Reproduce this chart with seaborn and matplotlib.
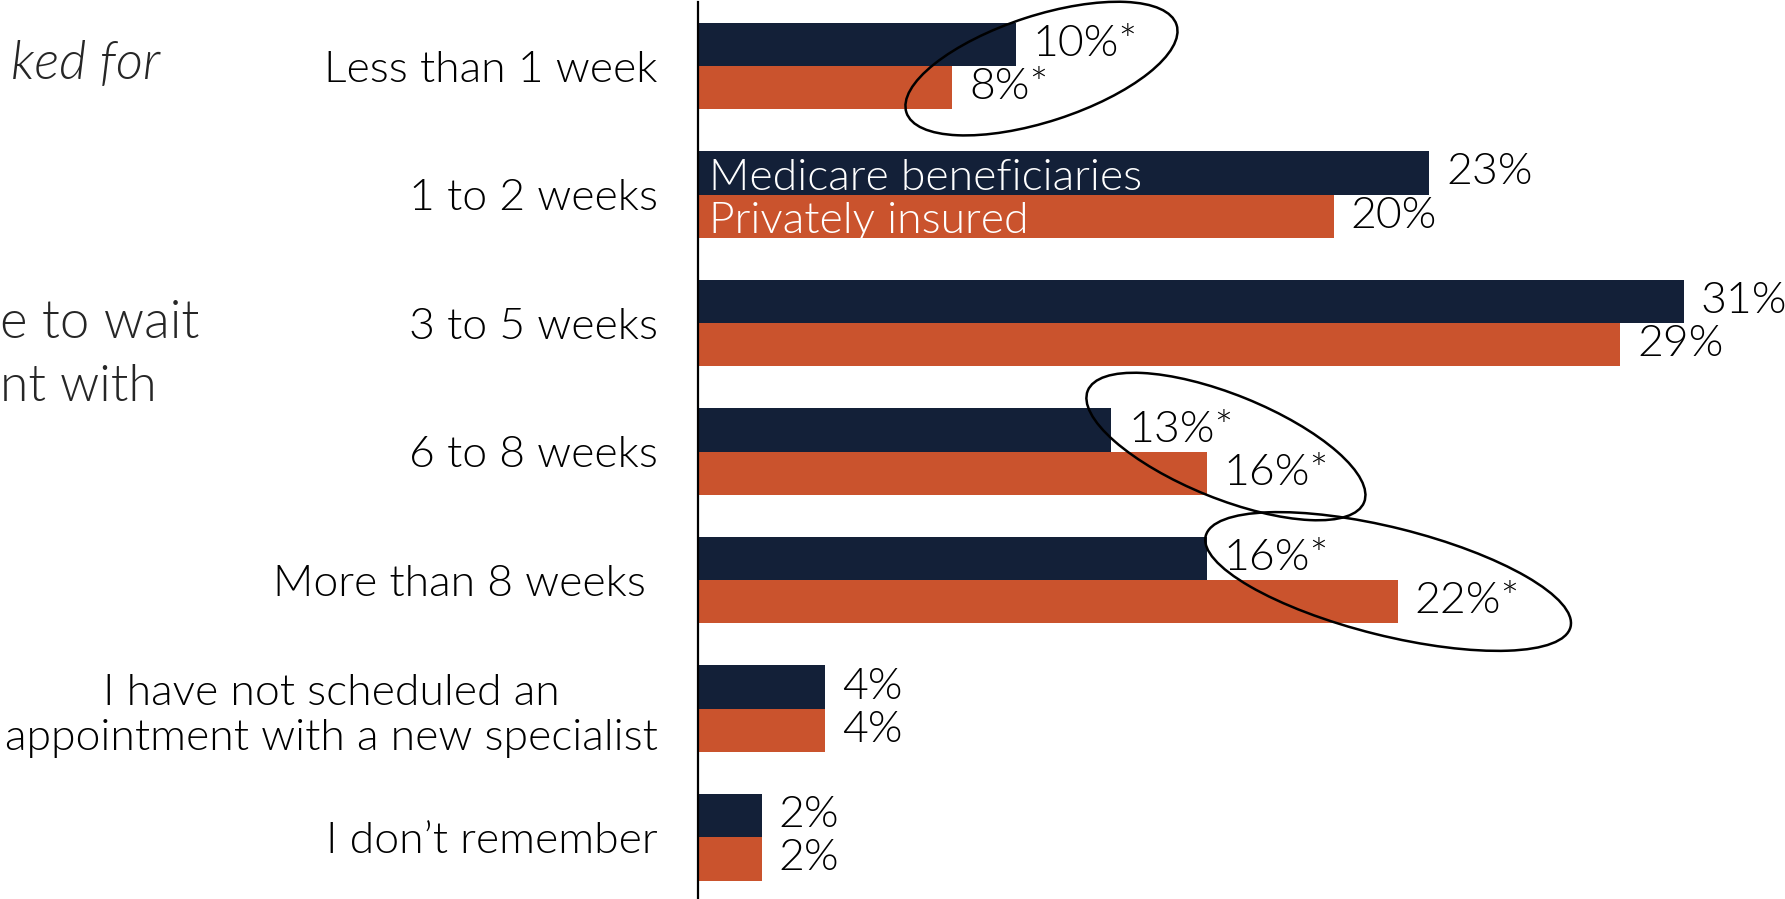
# Wait times for a new specialist appointment, Medicare vs privately insured
import matplotlib.pyplot as plt
import pandas as pd
import seaborn as sns
from matplotlib.patches import Ellipse
from matplotlib.transforms import IdentityTransform

# datos
categories = ["Less than 1 week", "1 to 2 weeks", "3 to 5 weeks", "6 to 8 weeks",
              "More than 8 weeks ",
              "I have not scheduled an\nappointment with a new specialist",
              "I don\u2019t remember"]
medicare = [10, 23, 31, 13, 16, 4, 2]
private = [8, 20, 29, 16, 22, 4, 2]
significant = [True, False, False, True, True, False, False]
groups = ["Medicare beneficiaries", "Privately insured"]

NAVY = "#132038"
ORANGE = "#CA532D"
FS = 32
W = 300

df = pd.DataFrame({
    "category": categories * 2,
    "value": medicare + private,
    "group": [groups[0]] * len(categories) + [groups[1]] * len(categories),
})

sns.set_style("white")
plt.rcParams["font.family"] = ["Lato", "DejaVu Sans"]
plt.rcParams["font.weight"] = W

fig = plt.figure(figsize=(17.85, 8.99), dpi=100)
ax = fig.add_axes([698 / 1785, 0, 1 - 698 / 1785, 897 / 899])

sns.barplot(data=df, y="category", x="value", hue="group", order=categories,
            hue_order=groups, palette=[NAVY, ORANGE], saturation=1, orient="h",
            width=0.673, linewidth=0, legend=False, ax=ax)

ax.set_xlim(0, 34.18)
ax.set_ylim(6.48, -0.498)
ax.set_xlabel("")
ax.set_ylabel("")
ax.set_xticks([])
for s in ["top", "right", "bottom"]:
    ax.spines[s].set_visible(False)
ax.spines["left"].set_color("black")
ax.spines["left"].set_linewidth(1.6)

ax.tick_params(axis="y", length=0, pad=29, labelsize=FS, labelcolor="black")
for lab in ax.get_yticklabels():
    lab.set_multialignment("center")
    lab.set_fontweight(W)

# etiquetas de valor
for cont, vals in zip(ax.containers, [medicare, private]):
    labels = [f"{v}%" + ("*" if sig else "") for v, sig in zip(vals, significant)]
    ax.bar_label(cont, labels=labels, padding=12, fontsize=FS, color="black",
                 fontweight=W)

# leyenda dentro de las barras de la segunda fila
for cont, name in zip(ax.containers, groups):
    p = cont[1]
    yc = p.get_y() + p.get_height() / 2
    ax.annotate(name, xy=(0, yc), xytext=(8, -4), textcoords="offset points",
                ha="left", va="center", fontsize=FS, color="white", fontweight=W)

# elipses de significancia (fila, x en %, ancho px, alto px, ángulo)
ellipses = [(0.02, 10.8, 284, 106, 18), (2.96, 16.6, 298, 104, -22), (4.01, 21.7, 376, 108, -14)]
for row, xc, w, h, ang in ellipses:
    cx, cy = ax.transData.transform((xc, row))
    fig.add_artist(Ellipse((cx, cy), w, h, angle=ang, transform=IdentityTransform(),
                           fill=False, edgecolor="black", linewidth=1.8))

# texto recortado a la izquierda
fig.text(160 / 1785, 1 - 64 / 899, "ked for", ha="right", va="center", fontsize=38,
         style="italic", fontweight=W)
fig.text(199 / 1785, 1 - 324 / 899, "e to wait", ha="right", va="center", fontsize=38,
         fontweight=W)
fig.text(157 / 1785, 1 - 387 / 899, "nt with", ha="right", va="center", fontsize=37,
         fontweight=W)

fig.savefig("out.png", dpi=100)
